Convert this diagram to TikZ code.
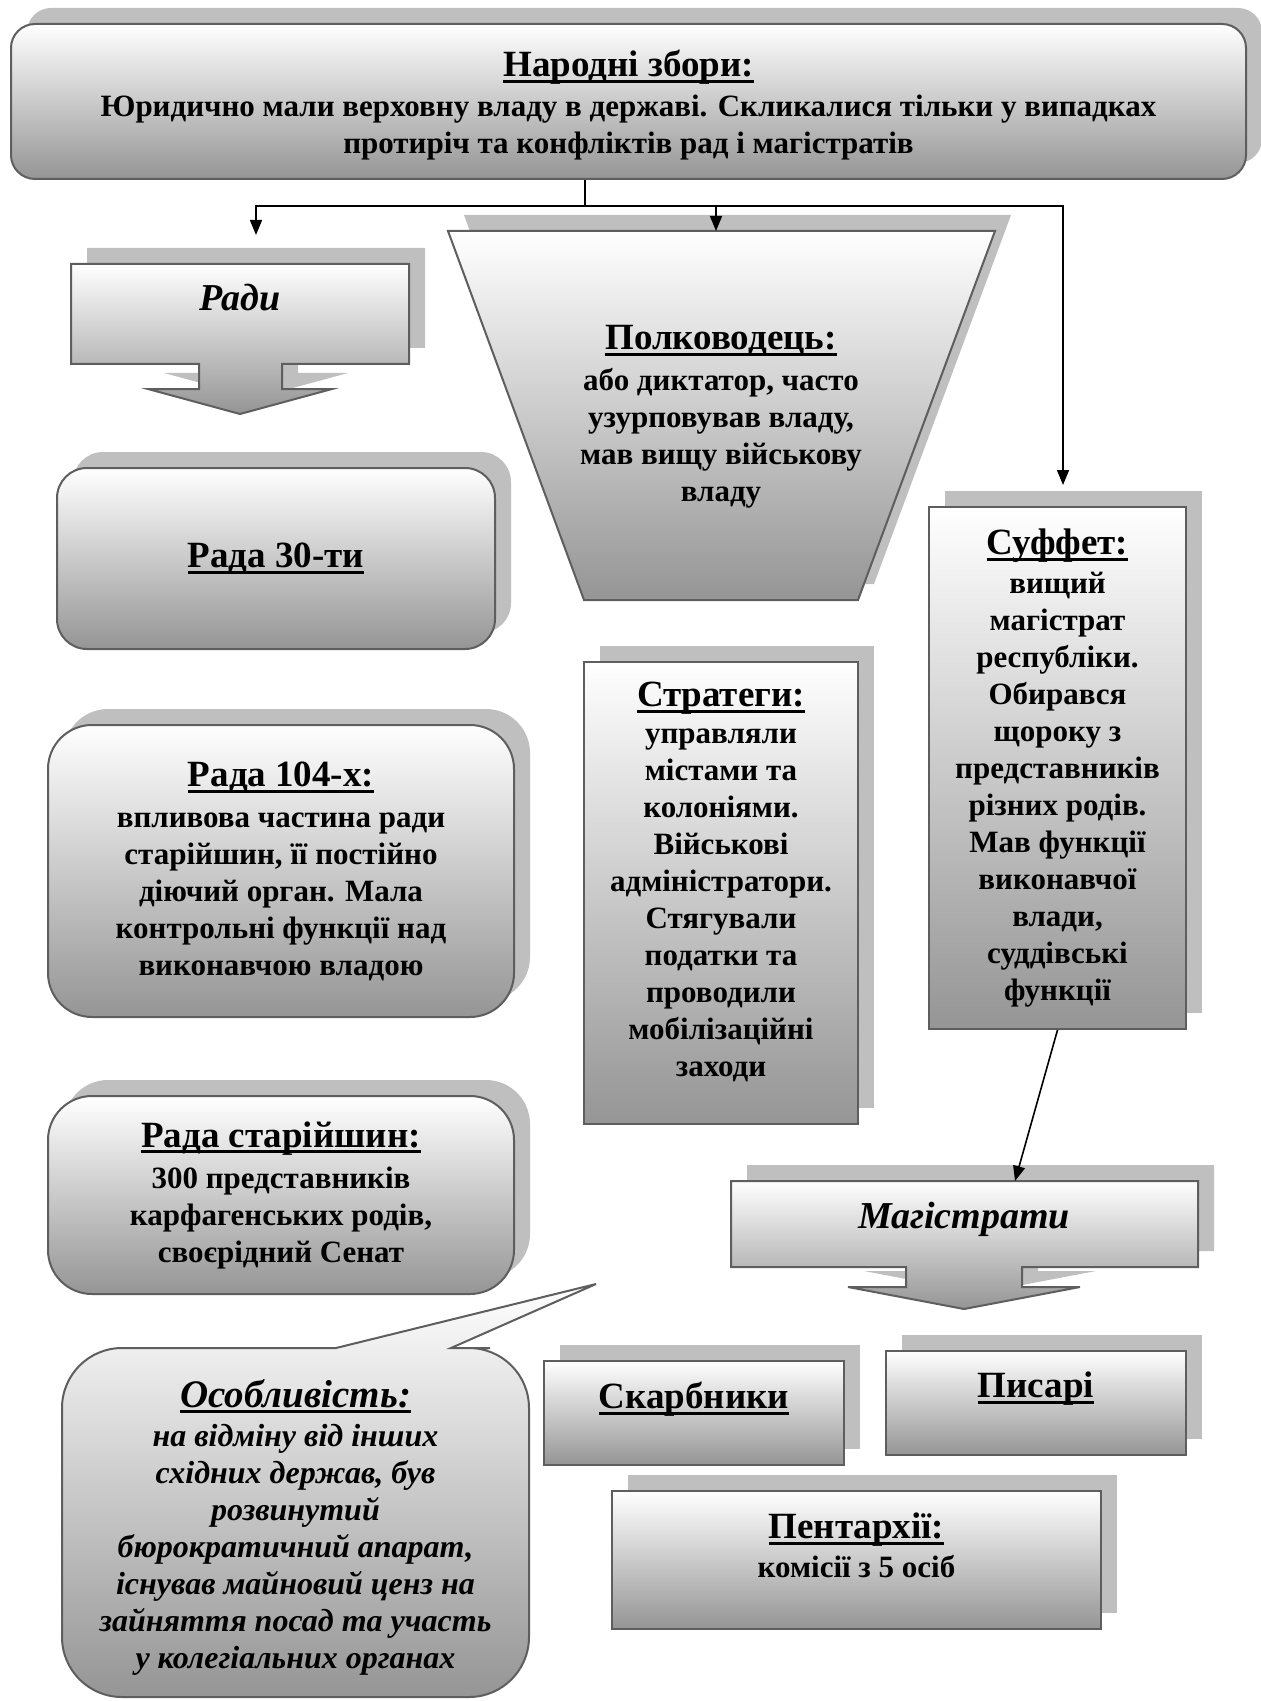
\documentclass[tikz,border=0pt]{standalone}
\usepackage{fontspec}
\setmainfont{Liberation Serif}
\usetikzlibrary{shadows,arrows.meta}
\definecolor{frame-gray}{HTML}{5E5E5E}
\definecolor{shade-gray}{HTML}{959595}
\definecolor{shadow-gray}{HTML}{BFBFBF}
\newsavebox{\ulbox}
\newcommand{\ulin}[1]{\sbox{\ulbox}{#1}\rlap{\rule[-3.2pt]{\wd\ulbox}{1.5pt}}\usebox{\ulbox}}
\newcommand{\titlesize}{\fontsize{18.5}{21}\selectfont}

\begin{document}
\begin{tikzpicture}[x=0.5pt, y=-0.5pt,
    flat/.style={draw=frame-gray, line width=1pt, top color=white, bottom color=shade-gray},
    panel/.style={flat, drop shadow={shadow xshift=8pt, shadow yshift=8pt, fill=shadow-gray, opacity=1}},
    bodytxt/.style={align=center, inner sep=2pt, font=\fontsize{15.5}{18.5}\selectfont\bfseries},
    boxtxt/.style={panel, bodytxt},
    roundbox/.style={boxtxt, rounded corners=#1},
    italtitle/.style={font=\fontsize{19}{22}\selectfont\bfseries\itshape},
    conn/.style={line width=0.8pt, -{Triangle[length=7.5pt, width=6pt]}}]
    % canvas in pixels of the 1260 x 1701 sheet, y grows downwards
    \useasboundingbox (0,0) rectangle (1260,1701);

    % top: people's assembly
    \node[roundbox=12pt, minimum width=617.5pt, minimum height=77.5pt, text depth=0pt] (zbory) at (628.5,101.5)
      {{\titlesize\ulin{Народні збори:}}\\[1.5pt]
       Юридично мали верховну владу в державі. Скликалися тільки у випадках\\
       протиріч та конфліктів рад і магістратів};

    % councils (left column)
    \draw[panel] (71,264) -- (409,264) -- (409,364) -- (282,364) -- (282,389) -- (332,389)
      -- (240,414) -- (148,389) -- (199,389) -- (199,364) -- (71,364) -- cycle;
    \node[italtitle] (radi) at (240,298) {Ради};
    \node[roundbox=15pt, minimum width=219pt, minimum height=90.5pt] (rada30) at (276,558.5)
      {\titlesize\ulin{Рада 30-ти}};
    \node[roundbox=22pt, minimum width=233pt, minimum height=146pt] (rada104) at (281,871)
      {{\titlesize\ulin{Рада 104-х:}}\\[2pt]
       впливова частина ради\\ старійшин, її постійно\\ діючий орган. Мала\\
       контрольні функції над\\ виконавчою владою};
    \node[roundbox=22pt, minimum width=233pt, minimum height=99pt] (radastar) at (281,1195)
      {{\titlesize\ulin{Рада старійшин:}}\\[2pt]
       300 представників\\ карфагенських родів,\\ своєрідний Сенат};

    % commander (inverted trapezoid)
    \draw[panel] (448,231) -- (995,231) -- (858,600) -- (584,600) -- cycle;
    \node[bodytxt] (polk) at (721,417)
      {{\titlesize\ulin{Полководець:}}\\[2pt]
       або диктатор, часто\\ узурповував владу,\\ мав вищу військову\\ владу};

    \node[boxtxt, minimum width=137pt, minimum height=231pt, text depth=13.5pt] (strat) at (721,893)
      {{\titlesize\ulin{Стратеги:}}\\[0pt]
       управляли\\ містами та\\ колоніями.\\ Військові\\ адміністратори.\\
       Стягували\\ податки та\\ проводили\\ мобілізаційні\\ заходи};

    \node[boxtxt, minimum width=128.5pt, minimum height=261pt] (suffet) at (1057.5,768)
      {{\titlesize\ulin{Суффет:}}\\[1pt]
       вищий\\ магістрат\\ республіки.\\ Обирався\\ щороку з\\ представників\\
       різних родів.\\ Мав функції\\ виконавчої\\ влади,\\ суддівські\\ функції};

    % magistrates
    \draw[panel] (731,1181) -- (1198,1181) -- (1198,1267) -- (1022,1267) -- (1022,1287) -- (1080,1287)
      -- (964,1309) -- (848,1287) -- (906,1287) -- (906,1267) -- (731,1267) -- cycle;
    \node[italtitle] (magistr) at (964,1219) {Магістрати};
    \node[boxtxt, minimum width=150pt, minimum height=52pt, text depth=18pt] (skarb) at (694,1413)
      {\titlesize\ulin{Скарбники}};
    \node[boxtxt, minimum width=150pt, minimum height=52pt, text depth=18pt] (pysari) at (1036,1403)
      {\titlesize\ulin{Писарі}};
    \node[boxtxt, minimum width=244.5pt, minimum height=69pt, text depth=15pt] (pent) at (856.5,1560)
      {{\titlesize\ulin{Пентархії:}}\\[1pt] комісії з 5 осіб};

    % speech bubble
    \draw[flat] (490,1348) [rounded corners=30pt] -- (529,1348) -- (529,1697) -- (62,1697)
      -- (62,1348) -- (200,1348) [sharp corners] -- (336,1348) -- (596,1284) -- (451,1348) -- cycle;
    \node[bodytxt, font=\fontsize{16}{18.5}\selectfont\bfseries\itshape] (osob) at (295.5,1527)
      {{\fontsize{19.5}{22}\selectfont\ulin{Особливість:}}\\[1pt]
       на відміну від інших\\ східних держав, був\\ розвинутий\\ бюрократичний апарат,\\
       існував майновий ценз на\\ зайняття посад та участь\\ у колегіальних органах};

    % connectors
    \coordinate (split) at (585,206);
    \coordinate (raditip) at (256,235);
    \coordinate (polktop) at (716,231);
    \coordinate (magtop) at (1015,1181);
    \draw[line width=0.8pt] (zbory.south -| split) -- (split);
    \draw[conn] (split) -| (raditip);
    \draw[conn] (split -| polktop) -- (polktop);
    \draw[conn] (split) -| ([xshift=2.75pt, yshift=10.5pt]suffet.north);
    \draw[conn] (suffet.south) -- (magtop);
\end{tikzpicture}
\end{document}
